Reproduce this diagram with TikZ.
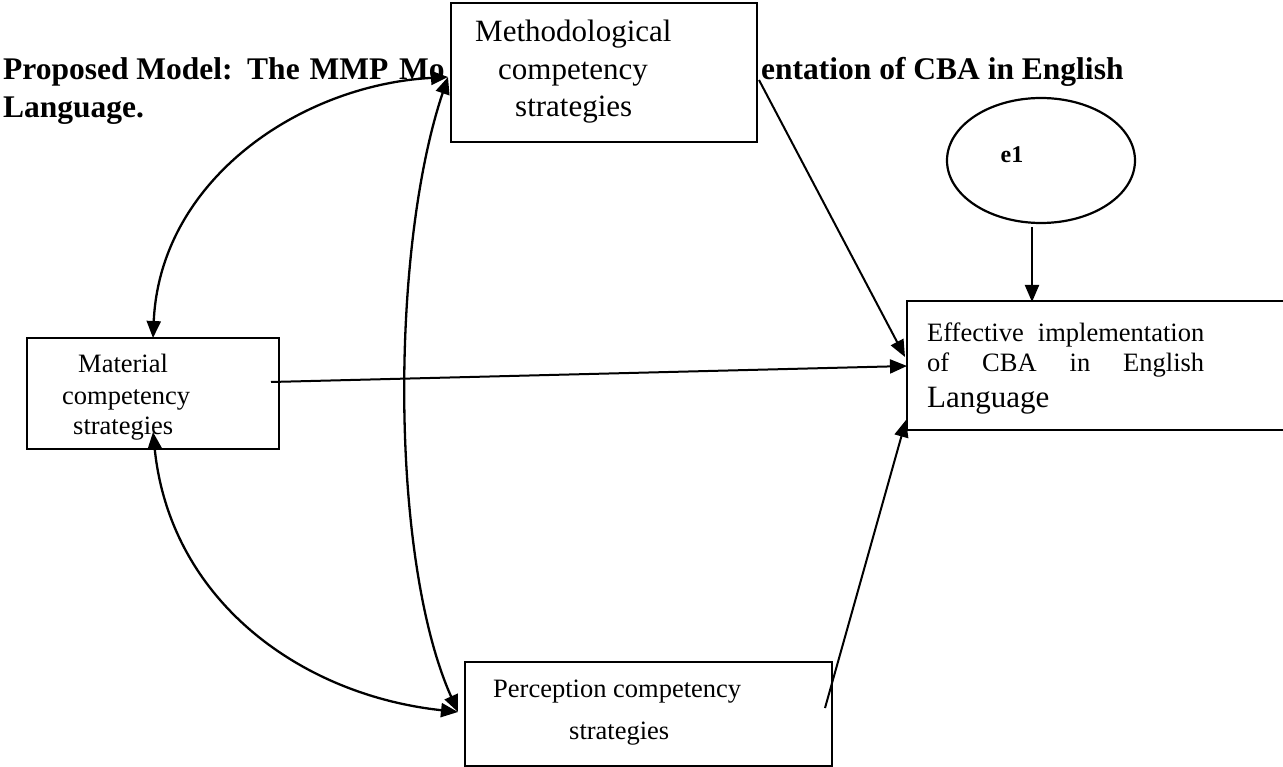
\documentclass[tikz,border=0pt]{standalone}
\usepackage{fontspec}
\setmainfont{Liberation Serif}
\usetikzlibrary{arrows.meta,shapes.geometric}

\tikzset{
  box/.style={draw, line width=2.2pt, fill=white, rectangle, inner sep=0pt},
  txt/.style={anchor=base west, inner sep=0pt},
  tip/.tip={Triangle[length=17pt,width=14pt]},
  link/.style={line width=2pt, -tip},
  corr/.style={line width=2.3pt, tip-tip},
}
\newcommand{\sizeL}{\fontsize{31}{37}\selectfont}
\newcommand{\sizeT}{\fontsize{31.5}{38}\selectfont\bfseries}
\newcommand{\sizeM}{\fontsize{26.5}{31}\selectfont}

\begin{document}
\begin{tikzpicture}[x=1pt,y=-1pt]
\useasboundingbox (0,0) rectangle (1283,767);

% heading, interrupted by the top box
\node[txt] (title1) at (3,80) {\sizeT Proposed Model:\hspace{4pt} The\hspace{2pt} MMP\hspace{3pt} Mo};
\node[txt] (title2) at (761,80) {\sizeT entation of CBA in English};
\node[txt] (title3) at (3,118) {\sizeT Language.};

% boxes
\node[box, minimum width=306pt, minimum height=139pt] (meth) at (604,72.5) {};
\node[box, minimum width=252pt, minimum height=111pt] (mat) at (153,393.5) {};
\node[box, minimum width=367pt, minimum height=104pt] (perc) at (648.5,714) {};
\node[box, minimum width=383pt, minimum height=129pt] (eff) at (1098.5,365.5) {};
\node[draw, line width=2.2pt, ellipse, minimum width=188pt, minimum height=125pt, inner sep=0pt] (e1) at (1041,160.5) {};

% box texts
\node[txt] (methA) at (475,42) {\sizeL Methodological};
\node[txt] (methB) at (498,80) {\sizeL competency};
\node[txt] (methC) at (515,117) {\sizeL strategies};

\node[txt] (matA) at (78,373) {\sizeM Material};
\node[txt] (matB) at (62,404) {\sizeM competency};
\node[txt] (matC) at (73,434) {\sizeM strategies};

\node[txt] (percA) at (493,697) {\sizeM Perception competency};
\node[txt] (percB) at (569,739) {\sizeM strategies};

\node[txt] (effA) at (927,342) {\sizeM\makebox[277pt][s]{Effective implementation}};
\node[txt] (effB) at (927,371) {\sizeM\makebox[277pt][s]{of CBA in English}};
\node[txt] (effC) at (927,407) {\sizeL Language};

\node[inner sep=0pt] (e1t) at (1012,155) {\fontsize{24}{28}\selectfont\bfseries e1};

% connector end points
\coordinate (methOut) at (759,80);
\coordinate (methIn) at (448,77);
\coordinate (matOut) at (271,382);
\coordinate (matTop) at (153,338);
\coordinate (matBot) at (153,432);
\coordinate (percIn) at (458,712);
\coordinate (percOut) at (825,708);
\coordinate (effInA) at (905,357);
\coordinate (effInB) at (907,366);
\coordinate (effInC) at (906,420);
\coordinate (e1Out) at (1032,227);
\coordinate (effTop) at (1032,302);

% paths
\draw[link] (e1Out) -- (effTop);
\draw[link] (methOut) -- (effInA);
\draw[link] (matOut) -- (effInB);
\draw[link] (percOut) -- (effInC);

% correlations
\draw[corr] (matTop) .. controls (160,180) and (300,85) .. (methIn);
\draw[corr] (matBot) .. controls (170,600) and (300,695) .. (percIn);
\draw[corr] (methIn) .. controls (390,250) and (390,560) .. (percIn);
\end{tikzpicture}
\end{document}
